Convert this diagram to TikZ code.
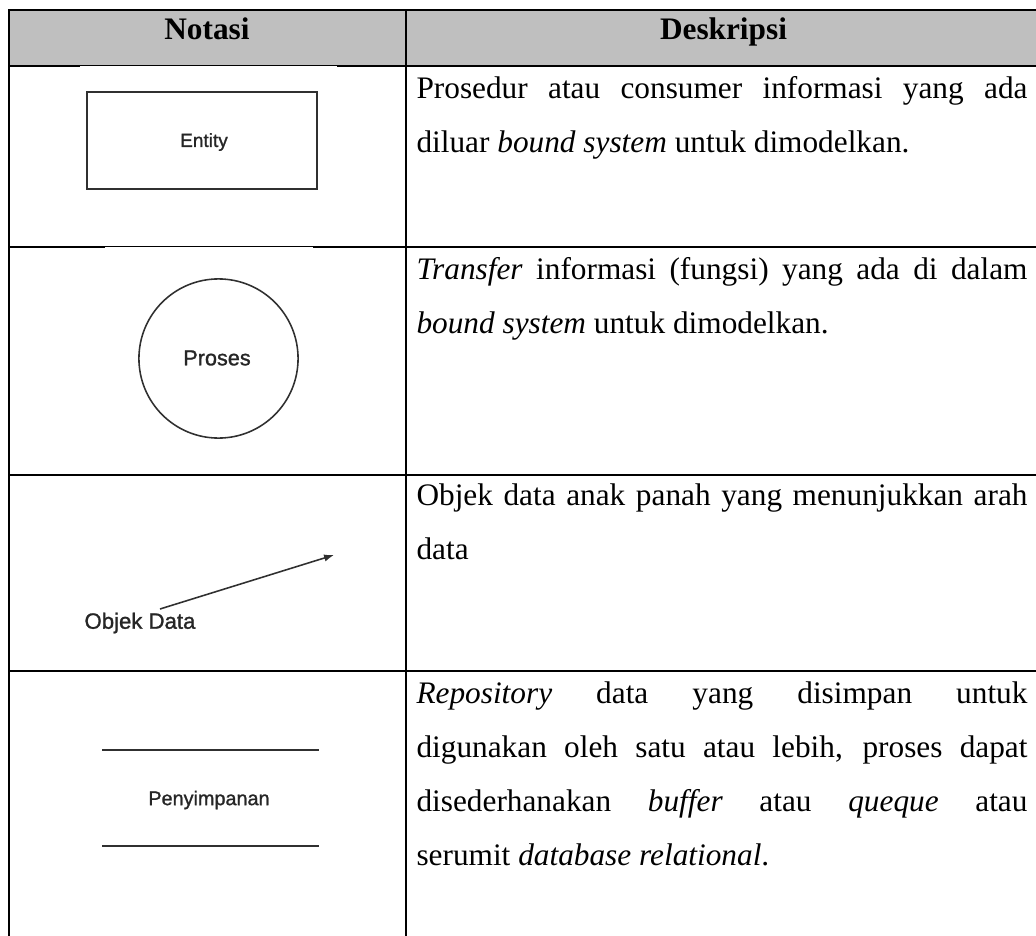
\documentclass[tikz,border=0pt]{standalone}
\usepackage{fontspec}
\setmainfont{Liberation Serif}
\newfontfamily\figfont[FakeBold=1.2]{Liberation Sans}
\usetikzlibrary{arrows.meta}
\definecolor{hdrgray}{HTML}{BFBFBF}
\definecolor{figline}{HTML}{303030}
\newlength\jw
\setlength\jw{234.2pt}
\newcommand{\justline}[1]{\makebox[\jw][s]{#1}}
\begin{document}
\begin{tikzpicture}[x=0.3833pt,y=-0.3833pt,
  rule/.style={line width=0.77pt,black},
  desc/.style={anchor=base west,inner sep=0pt,font=\fontsize{12pt}{14pt}\selectfont},
  head/.style={anchor=base,inner sep=0pt,font=\fontsize{12pt}{14pt}\selectfont\bfseries},
  lbl/.style={inner sep=0pt,text=black!85},
  shapeline/.style={line width=0.6pt,draw=figline}]
\useasboundingbox (0,0) rectangle (1036,936);
\clip (0,0) rectangle (1036,936);
% header band
\fill[hdrgray] (9,10) rectangle (1045,66);
% table rules
\draw[rule] (9,10) -- (1045,10);
\draw[rule] (9,66) -- (1045,66);
\draw[rule] (9,247) -- (1045,247);
\draw[rule] (9,475) -- (1045,475);
\draw[rule] (9,671) -- (1045,671);
\draw[rule] (9,9.2) -- (9,940);
\draw[rule] (406,9.2) -- (406,940);
% images slightly covering rules
\fill[white] (80,66.4) rectangle (337,67.5);
\fill[white] (105,247.4) rectangle (313,248.5);
% header texts
\node[head] (hnot) at (207,39) {Notasi};
\node[head] (hdes) at (723.5,39) {Deskripsi};
% row 1
\node[draw=figline,line width=0.6pt,minimum width=88.2pt,minimum height=37.2pt,inner sep=0pt] (entity) at (202,140.5) {};
\node[lbl,font=\figfont\fontsize{7.3pt}{9pt}\selectfont] (entitylbl) at (204,142) {Entity};
\node[desc] (d1a) at (416,98) {\justline{Prosedur atau consumer informasi yang ada}};
\node[desc] (d1b) at (416,152) {diluar \textit{bound system} untuk dimodelkan.};
% row 2
\node[circle,draw=figline,line width=0.6pt,minimum size=61pt,inner sep=0pt] (proses) at (218.5,358.5) {};
\node[lbl,font=\figfont\fontsize{8.3pt}{10pt}\selectfont] (proseslbl) at (217,358) {Proses};
\node[desc] (d2a) at (416,279) {\justline{\textit{Transfer} informasi (fungsi) yang ada di dalam}};
\node[desc] (d2b) at (416,333) {\textit{bound system} untuk dimodelkan.};
% row 3
\node[lbl,font=\figfont\fontsize{8.5pt}{10pt}\selectfont] (objek) at (140,623) {Objek Data};
\coordinate (arrS) at (160,609);
\coordinate (arrE) at (334,555);
\draw[shapeline,-{Latex[length=3.8pt,width=2.8pt]}] (arrS) -- (arrE);
\node[desc] (d3a) at (416,505) {\justline{Objek data anak panah yang menunjukkan arah}};
\node[desc] (d3b) at (416,559) {data};
% row 4
\coordinate (s1a) at (102,750);
\coordinate (s1b) at (319,750);
\coordinate (s2a) at (102,846);
\coordinate (s2b) at (319,846);
\draw[shapeline] (s1a) -- (s1b);
\draw[shapeline] (s2a) -- (s2b);
\node[lbl,font=\figfont\fontsize{7.6pt}{9pt}\selectfont] (penyimpanan) at (209,800) {Penyimpanan};
\node[desc] (d4a) at (416,703) {\justline{\textit{Repository} data yang disimpan untuk}};
\node[desc] (d4b) at (416,757) {\justline{digunakan oleh satu atau lebih, proses dapat}};
\node[desc] (d4c) at (416,811) {\justline{disederhanakan \textit{buffer} atau \textit{queque} atau}};
\node[desc] (d4d) at (416,865) {serumit \textit{database relational}.};
\end{tikzpicture}
\end{document}
